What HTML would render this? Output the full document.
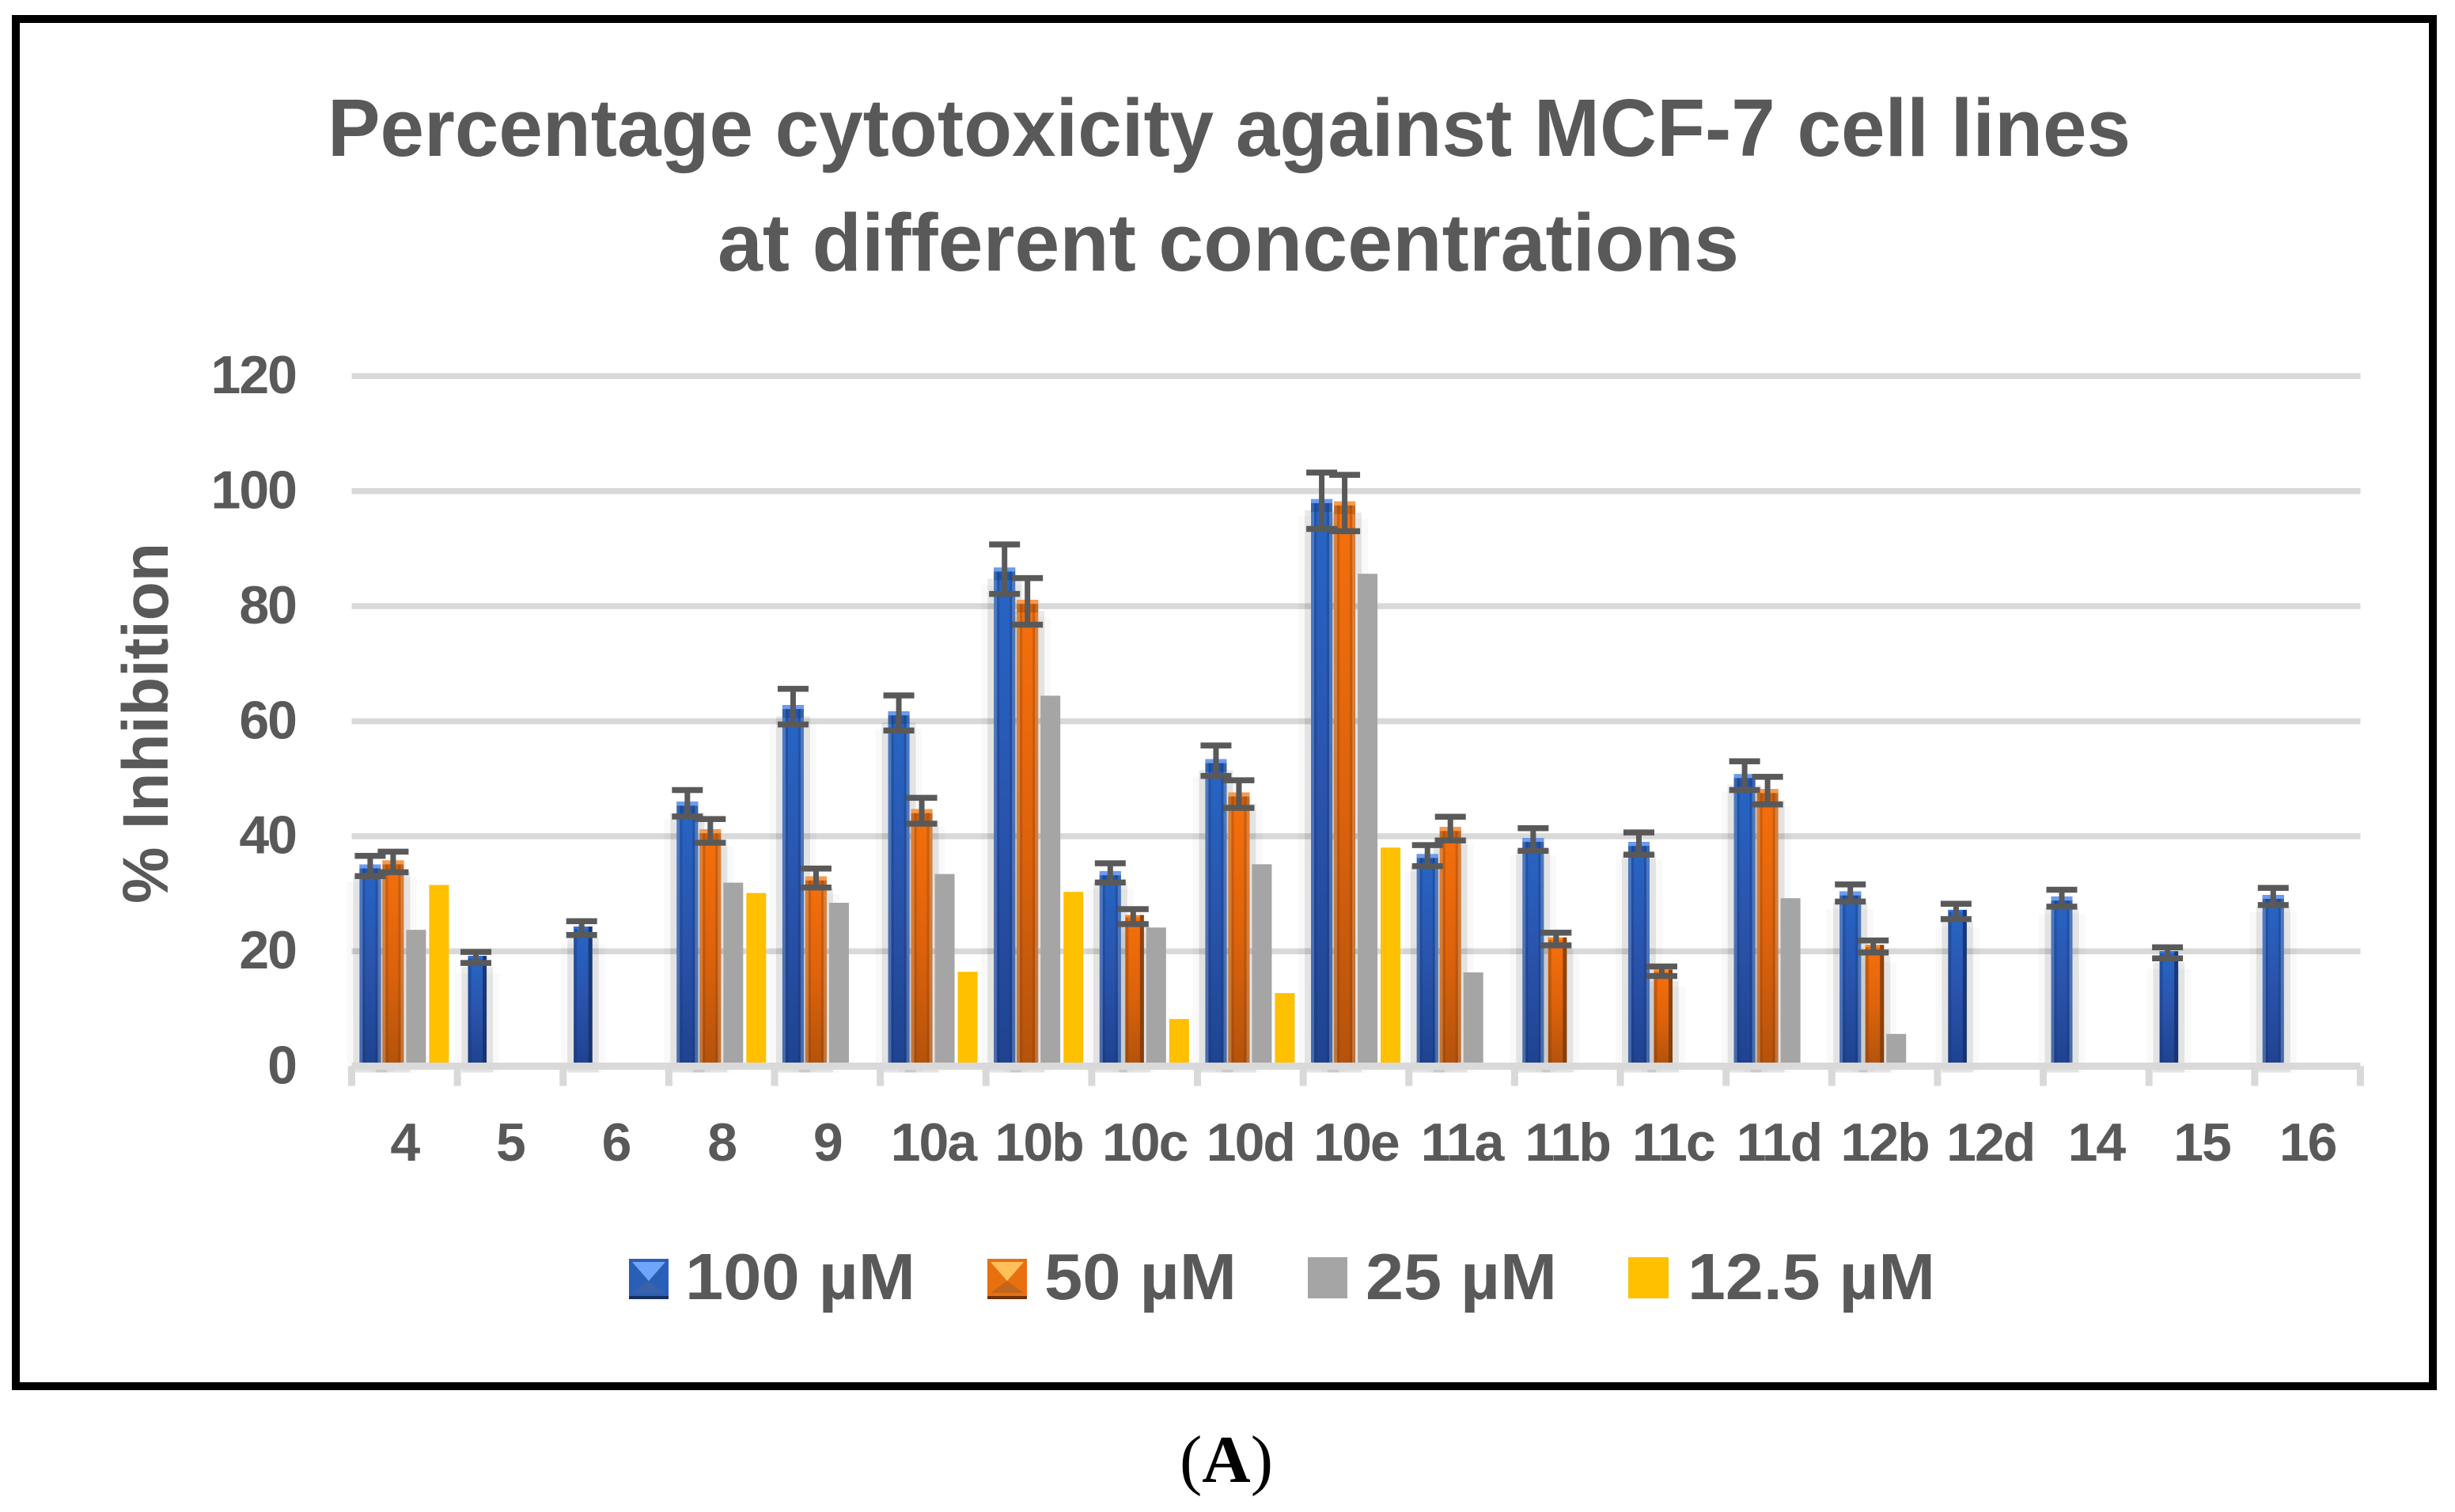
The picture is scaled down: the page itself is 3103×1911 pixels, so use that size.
<!DOCTYPE html>
<html lang="en">
<head>
<meta charset="utf-8">
<title>Percentage cytotoxicity against MCF-7 cell lines</title>
<style>
html,body{margin:0;padding:0;background:#fff;width:3103px;height:1911px;overflow:hidden}
svg{display:block}
text{font-family:"Liberation Sans",sans-serif;font-weight:bold;fill:#595959}
</style>
</head>
<body>
<svg id="chart" xmlns="http://www.w3.org/2000/svg" width="3103" height="1911" viewBox="0 0 3103 1911">
<defs>
<linearGradient id="blueV" x1="0" y1="0" x2="0" y2="1"><stop offset="0" stop-color="#2766c6"/><stop offset=".5" stop-color="#2a54ad"/><stop offset="1" stop-color="#1f4390"/></linearGradient>
<linearGradient id="orangeV" x1="0" y1="0" x2="0" y2="1"><stop offset="0" stop-color="#f6700c"/><stop offset=".55" stop-color="#dc620c"/><stop offset="1" stop-color="#b4530c"/></linearGradient>
</defs>
<rect x="20" y="24" width="3055" height="1728" fill="#fff" stroke="#000" stroke-width="10"/>
<text x="414" y="197" font-size="103" textLength="2279" lengthAdjust="spacingAndGlyphs">Percentage cytotoxicity against MCF-7 cell lines</text>
<text x="907" y="342" font-size="103" textLength="1291" lengthAdjust="spacingAndGlyphs">at different concentrations</text>
<text transform="translate(212,914) rotate(-90)" text-anchor="middle" font-size="82" textLength="456" lengthAdjust="spacingAndGlyphs">% Inhibition</text>
<g id="grid"></g>
<g id="shadows"></g>
<g id="bars"></g>
<g id="axis"></g>
<g id="errors"></g>
<g id="yticks"></g>
<g id="xticks"></g>

<g>
  <g>
    <rect x="795" y="1591" width="50" height="51" fill="#2a5fb8"/>
    <rect x="795" y="1638" width="50" height="4" fill="#17305f"/>
    <polygon points="799,1595 841,1595 820,1619" fill="#6fa6fb"/>
    <polygon points="799,1634 841,1634 820,1619" fill="#3a62a8"/>
    <text x="866" y="1642" font-size="83" textLength="291" lengthAdjust="spacingAndGlyphs">100 µM</text>
  </g>
  <g>
    <rect x="1248" y="1591" width="50" height="51" fill="#e8700f"/>
    <rect x="1248" y="1638" width="50" height="4" fill="#6e3208"/>
    <polygon points="1252,1595 1294,1595 1273,1619" fill="#ffc05a"/>
    <polygon points="1252,1634 1294,1634 1273,1619" fill="#c0661e"/>
    <text x="1320" y="1642" font-size="83" textLength="243" lengthAdjust="spacingAndGlyphs">50 µM</text>
  </g>
  <g>
    <rect x="1653" y="1589" width="50" height="52" fill="#a5a5a5"/>
    <text x="1726" y="1642" font-size="83" textLength="242" lengthAdjust="spacingAndGlyphs">25 µM</text>
  </g>
  <g>
    <rect x="2058" y="1589" width="51" height="52" fill="#ffc000"/>
    <text x="2133" y="1642" font-size="83" textLength="313" lengthAdjust="spacingAndGlyphs">12.5 µM</text>
  </g>
</g>
<text x="1550" y="1873" text-anchor="middle" font-size="85" style="font-family:'Liberation Serif',serif;fill:#000;font-weight:normal">(<tspan style="font-weight:bold;fill:#000">A</tspan>)</text>
</svg>
<script>
const categories = ['4','5','6','8','9','10a','10b','10c','10d','10e','11a','11b','11c','11d','12b','12d','14','15','16'];
const values100 = [34.8,18.9,24,45.7,62.5,61.4,86.4,33.6,53.1,98.3,36.6,39.4,38.7,50.5,30.1,26.9,29.2,19.7,29.5];
const values50 = [35.5,null,null,40.9,32.7,44.4,80.8,26,47.3,97.9,41.3,22.1,16.5,47.9,20.8,null,null,null,null];
const values25 = [23.7,null,null,31.9,28.4,33.4,64.4,24.1,35.1,85.6,16.3,null,null,29.2,5.6,null,null,null,null];
const values12 = [31.5,null,null,30.1,null,16.4,30.3,8.2,12.7,38,null,null,null,null,null,null,null,null,null];
const errors100 = [1.76,0.96,1.2,2.3,3.1,3.05,4.3,1.67,2.65,4.9,1.83,1.97,1.93,2.5,1.49,1.33,1.47,0.96,1.49];
const errors50 = [1.79,null,null,2.06,1.65,2.25,4.05,1.3,2.4,4.9,2.06,1.1,0.83,2.4,1.05,null,null,null,null];
const yTickLabels = [0,20,40,60,80,100,120];

const NS = 'http://www.w3.org/2000/svg';
const yScale = v => 1347.5 - v * 7.27;
const xLeft = 444.5, xStep = 133.63;
const xBand = i => xLeft + xStep * i;
const xCenter = i => xBand(i) + xStep / 2;
const seriesOffset = s => -43.4 + s * 29;

function mk(parent, tag, attrs) {
  const el = document.createElementNS(NS, tag);
  for (const k in attrs) el.setAttribute(k, attrs[k]);
  parent.appendChild(el);
  return el;
}
const gGrid = document.getElementById('grid');
const gShadow = document.getElementById('shadows');
const gBars = document.getElementById('bars');
const gAxis = document.getElementById('axis');
const gErr = document.getElementById('errors');
const gY = document.getElementById('yticks');
const gX = document.getElementById('xticks');

yTickLabels.forEach(t => {
  if (t !== 0) {
    const g = mk(gGrid, 'rect', {x: xLeft, y: yScale(t) - 3.5, width: xBand(categories.length) - xLeft, height: 7.5, fill: '#d9d9d9'});
    
    
  }
  const label = mk(gY, 'text', {x: 374, y: yScale(t) + 22, 'text-anchor': 'end', 'font-size': 68, 'letter-spacing': '-2'});
  label.textContent = t;
  
  
});

const axisLine = mk(gAxis, 'rect', {x: xLeft, y: yScale(0) - 4.5, width: xBand(categories.length) - xLeft, height: 9, fill: '#d9d9d9'});


for (let i = 0; i <= categories.length; i++) {
  const tick = mk(gAxis, 'rect', {x: xBand(i) - 4.5, y: yScale(0), width: 9, height: 25, fill: '#d9d9d9'});
  
  
}

function barGeom(i, s, v) {
  const cx = xCenter(i) + seriesOffset(s), narrow = v < 28;
  const w = narrow ? 23.5 : 27;
  const left = cx + 13.5 - w;
  const top = yScale(v) - 2;
  return {cx, narrow, w, left, top, base: yScale(0) - 4};
}
function drawShadow(i, s, v) {
  const b = barGeom(i, s, v), end = yScale(0) + 8;
  const outer = mk(gShadow, 'rect', {x: b.left - 16, y: b.top + 22, width: b.w + 32, height: Math.max(end - b.top - 22, 1), fill: '#000', opacity: .022});
  
  
  const inner = mk(gShadow, 'rect', {x: b.left - 8, y: b.top + 14, width: b.w + 16, height: Math.max(end - b.top - 14, 1), fill: '#000', opacity: .085});
  
  
}
function drawBevelBar(i, s, v, grad, cap, capNarrow, edge, dark) {
  const b = barGeom(i, s, v), h = b.base - b.top;
  const bar = mk(gBars, 'rect', {x: b.left, y: b.top, width: b.w, height: h, fill: 'url(#' + grad + ')'});
  
  
  if (b.narrow) {
    mk(gBars, 'rect', {x: b.left, y: b.top, width: 4, height: h, fill: dark, opacity: .35});
    mk(gBars, 'rect', {x: b.left + b.w - 5, y: b.top, width: 5, height: h, fill: dark, opacity: .8});
    mk(gBars, 'rect', {x: b.left, y: b.top, width: b.w - 5, height: 3, fill: capNarrow});
  } else {
    mk(gBars, 'rect', {x: b.left, y: b.top, width: 4, height: h, fill: edge, opacity: .55});
    mk(gBars, 'rect', {x: b.left + 4, y: b.top, width: 3, height: h, fill: dark, opacity: .3});
    mk(gBars, 'rect', {x: b.left + b.w - 7, y: b.top, width: 3, height: h, fill: dark, opacity: .3});
    mk(gBars, 'rect', {x: b.left + b.w - 4, y: b.top, width: 4, height: h, fill: edge, opacity: .55});
    mk(gBars, 'rect', {x: b.left, y: b.top + 5, width: b.w, height: 11, fill: dark, opacity: .3});
    mk(gBars, 'rect', {x: b.left, y: b.top, width: b.w, height: 5, fill: cap});
  }
}
function drawFlatBar(i, s, v, color) {
  const cx = xCenter(i) + seriesOffset(s), w = 25, y = yScale(v);
  const bar = mk(gBars, 'rect', {x: cx - w / 2, y: y, width: w, height: yScale(0) - 4 - y, fill: color});
  
  
}
function drawError(i, s, v, e) {
  const cx = xCenter(i) + seriesOffset(s), hi = yScale(v + e), lo = yScale(v - e);
  const stem = mk(gErr, 'rect', {x: cx - 3.5, y: hi, width: 7, height: lo - hi, fill: '#595959'});
  
  
  const capTop = mk(gErr, 'rect', {x: cx - 19.5, y: hi - 3.75, width: 39, height: 7.5, fill: '#595959'});
  
  
  const capLow = mk(gErr, 'rect', {x: cx - 19.5, y: lo - 3.75, width: 39, height: 7.5, fill: '#595959'});
  
  
}

categories.forEach((c, i) => {
  if (values100[i] != null) drawShadow(i, 0, values100[i]);
  if (values50[i] != null) drawShadow(i, 1, values50[i]);
  if (values25[i] != null) drawFlatBar(i, 2, values25[i], '#a5a5a5');
  if (values12[i] != null) drawFlatBar(i, 3, values12[i], '#ffc000');
  const label = mk(gX, 'text', {x: xCenter(i), y: 1467, 'text-anchor': 'middle', 'font-size': 68, 'letter-spacing': '-2'});
  label.textContent = c;
  
  
});
categories.forEach((c, i) => {
  if (values100[i] != null) drawBevelBar(i, 0, values100[i], 'blueV', '#6a9cf0', '#2f6fe0', '#6a8cc0', '#14306a');
  if (values50[i] != null) drawBevelBar(i, 1, values50[i], 'orangeV', '#f79a4e', '#ff8a20', '#c89060', '#7a3804');
});
categories.forEach((c, i) => {
  if (values100[i] != null && errors100[i] != null) drawError(i, 0, values100[i], errors100[i]);
  if (values50[i] != null && errors50[i] != null) drawError(i, 1, values50[i], errors50[i]);
});
</script>
</body>
</html>
